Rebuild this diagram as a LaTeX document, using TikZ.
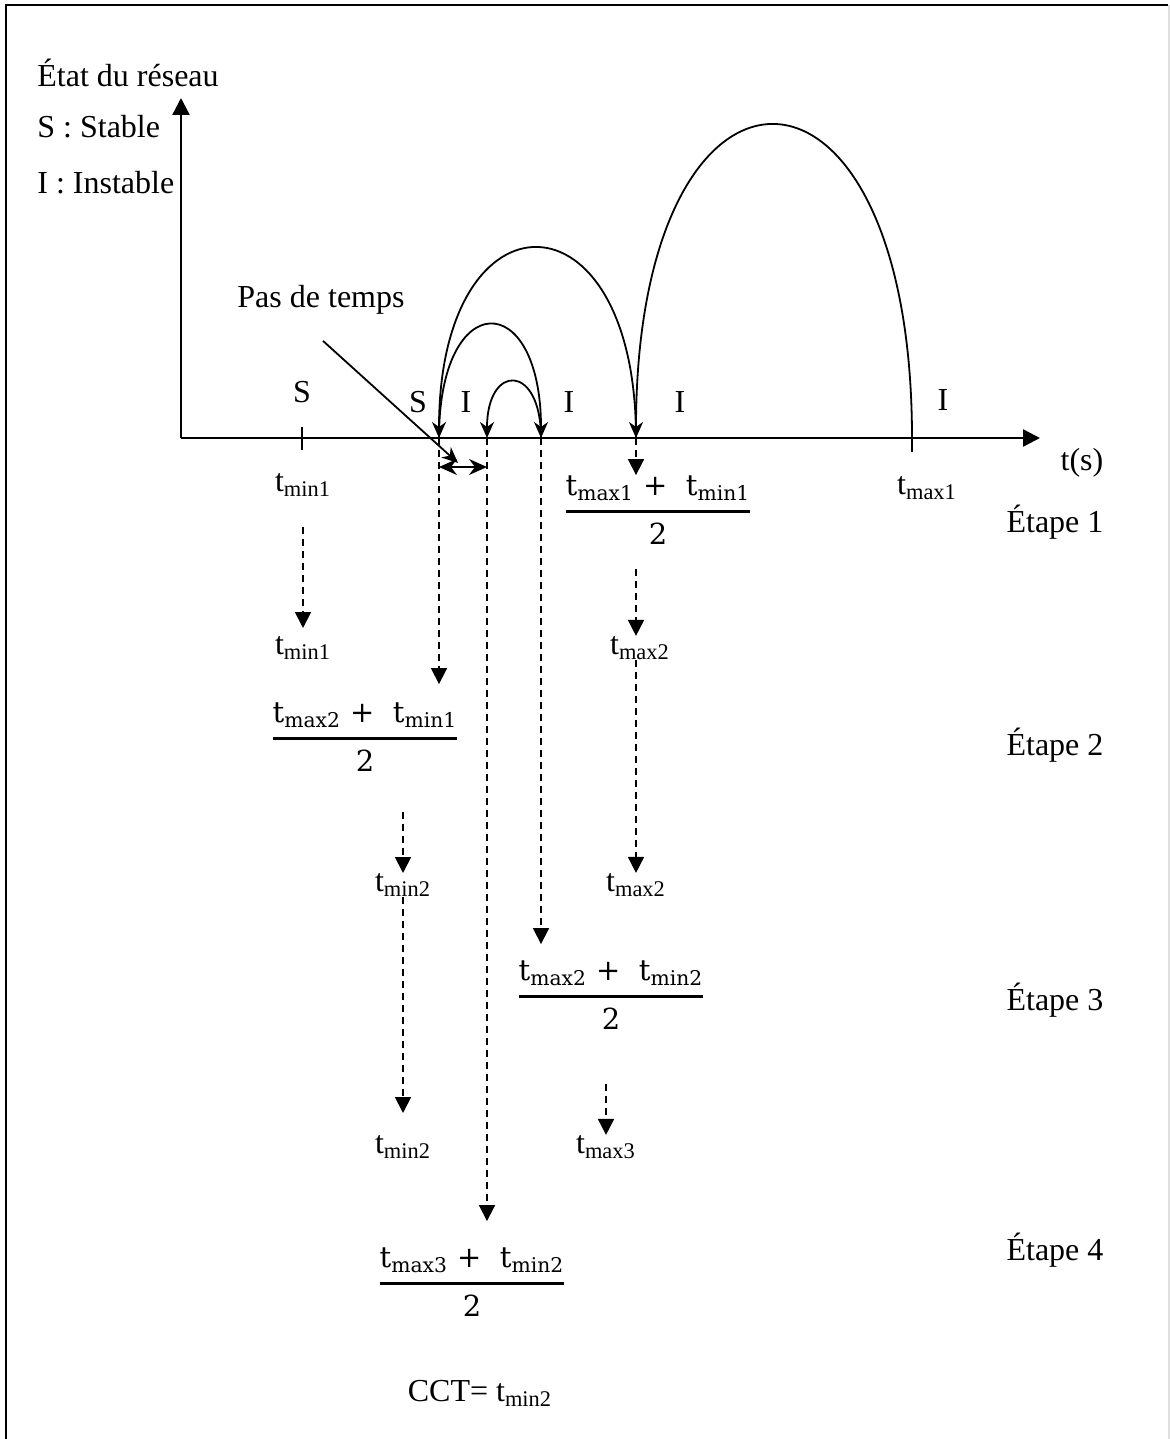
\documentclass[tikz,border=0pt]{standalone}
\usepackage{fontspec}
\setmainfont{Liberation Serif}
\newfontfamily\fracfont{DejaVu Serif}
\usepackage{amsmath}
\usetikzlibrary{arrows.meta}
\newcommand{\tsub}[1]{\textsubscript{#1}}
\newcommand{\moy}[2]{$\genfrac{}{}{1.6pt}{0}{\mbox{\fracfont t\tsub{#1} +\ \ t\tsub{#2}}}{\mbox{\fracfont 2}}$}
\tikzset{
x=0.5pt, y=-0.5pt,
>={Stealth[length=8pt,width=7pt,inset=2.5pt]},
axe/.style={line width=1.2pt, -{Triangle[length=8.5pt,width=8.5pt]}},
saut/.style={line width=0.9pt, ->},
pointille/.style={line width=0.9pt, dash pattern=on 3.5pt off 2.5pt, -{Triangle[length=8pt,width=8pt]}},
lbl/.style={font=\fontsize{16}{19}\selectfont, inner sep=0pt},
frac/.style={font=\fontsize{14.5}{17}\selectfont, inner sep=0pt},
}

\begin{document}
\begin{tikzpicture}
\useasboundingbox (0,0) rectangle (1170,1439);
% cadre
\draw[line width=1.4pt] (6,1439) -- (6,5) -- (1168,5);
\draw[gray!25, line width=0.6pt] (1169,5) -- (1169,1439);

% axes
\coordinate (o) at (181,438);
\coordinate (ymax) at (181,98);
\coordinate (xmax) at (1040,438);
\draw[axe] (o) -- (ymax);
\draw[axe] (o) -- (xmax);
\node[lbl, anchor=west] (etat) at (37,73) {État du réseau};
\node[lbl, anchor=west] (stable) at (37,127) {S : Stable};
\node[lbl, anchor=west] (instable) at (37,183) {I : Instable};
\node[lbl] (ts) at (1082,463) {t(s)};

% points sur l'axe
\coordinate (tmin) at (302,438);
\coordinate (tmax) at (912,438);
\coordinate (m1) at (636,438);
\coordinate (m2) at (439,438);
\coordinate (m3) at (541,438);
\coordinate (m4) at (487,438);
\draw[line width=1pt] ([yshift=5.5pt]tmin) -- ([yshift=-6pt]tmin);
\draw[line width=1pt] (tmax) -- ([yshift=-7pt]tmax);

% sauts
\draw[saut] (tmax) .. controls (912,21) and (636,21) .. (m1);
\draw[saut] (m1) .. controls (636,185) and (439,185) .. (m2);
\draw[saut] (m2) .. controls (439,287) and (541,287) .. (m3);
\draw[saut] (m3) .. controls (541,363) and (487,363) .. (m4);

% zones
\node[lbl] (s1) at (302,392) {S};
\node[lbl] (s2) at (418,402) {S};
\node[lbl] (i1) at (466,402) {I};
\node[lbl] (i2) at (569,402) {I};
\node[lbl] (i3) at (680,402) {I};
\node[lbl] (i4) at (943,400) {I};

% pas de temps
\node[lbl] (pas) at (321,300) {Pas de temps};
\coordinate (pasfin) at (458,463);
\draw[line width=0.9pt, ->] ([xshift=1pt,yshift=-13pt]pas.south) -- (pasfin);
\draw[line width=0.9pt, {Stealth[length=9pt,width=8pt,inset=3pt]}-{Stealth[length=9pt,width=8pt,inset=3pt]}] ([yshift=-14.5pt]m2) -- ([yshift=-14.5pt]m4);

% etape 1
\node[lbl] (tmina) at (303,485) {t\tsub{min1}};
\node[lbl] (tmaxa) at (927,488) {t\tsub{max1}};
\node[frac] (moy1) at (658,510) {\moy{max1}{min1}};
\node[lbl] (etape1) at (1055,522) {Étape 1};
\draw[pointille] (m1) -- (m1 |- moy1.north);

% etape 2
\node[lbl] (tminb) at (303,648) {t\tsub{min1}};
\node[lbl] (tmaxb) at (640,648) {t\tsub{max2}};
\draw[pointille, shorten <=15pt, shorten >=4pt] (tmina.south) -- (tminb.north);
\draw[pointille, shorten <=12pt] (m1 |- moy1.south) -- (m1 |- tmaxb.north);
\node[frac] (moy2) at (365,737) {\moy{max2}{min1}};
\node[lbl] (etape2) at (1055,745) {Étape 2};
\draw[pointille, shorten >=9pt] (m2) -- (m2 |- moy2.north);
\node[lbl] (tmaxc) at (636,885) {t\tsub{max2}};
\draw[pointille] (m1 |- tmaxb.south) -- (m1 |- tmaxc.north);

% etape 3
\node[lbl] (tminc) at (403,885) {t\tsub{min2}};
\draw[pointille, shorten <=20pt] (moy2.south -| tminc) -- (tminc.north);
\node[frac] (moy3) at (611,995) {\moy{max2}{min2}};
\node[lbl] (etape3) at (1055,1000) {Étape 3};
\draw[pointille, shorten >=8pt] (m3) -- (m3 |- moy3.north);
\node[lbl] (tmind) at (403,1147) {t\tsub{min2}};
\draw[pointille, shorten >=11pt] (tminc.south) -- (tmind.north);
\node[lbl] (tmaxd) at (606,1147) {t\tsub{max3}};
\draw[pointille, shorten <=27pt] (moy3.south -| tmaxd) -- (tmaxd.north);

% etape 4
\node[frac] (moy4) at (472,1282) {\moy{max3}{min2}};
\node[lbl] (etape4) at (1055,1250) {Étape 4};
\draw[pointille, shorten >=13pt] (m4) -- (m4 |- moy4.north);
\node[lbl] (cct) at (480,1393) {CCT= t\tsub{min2}};
\end{tikzpicture}
\end{document}
